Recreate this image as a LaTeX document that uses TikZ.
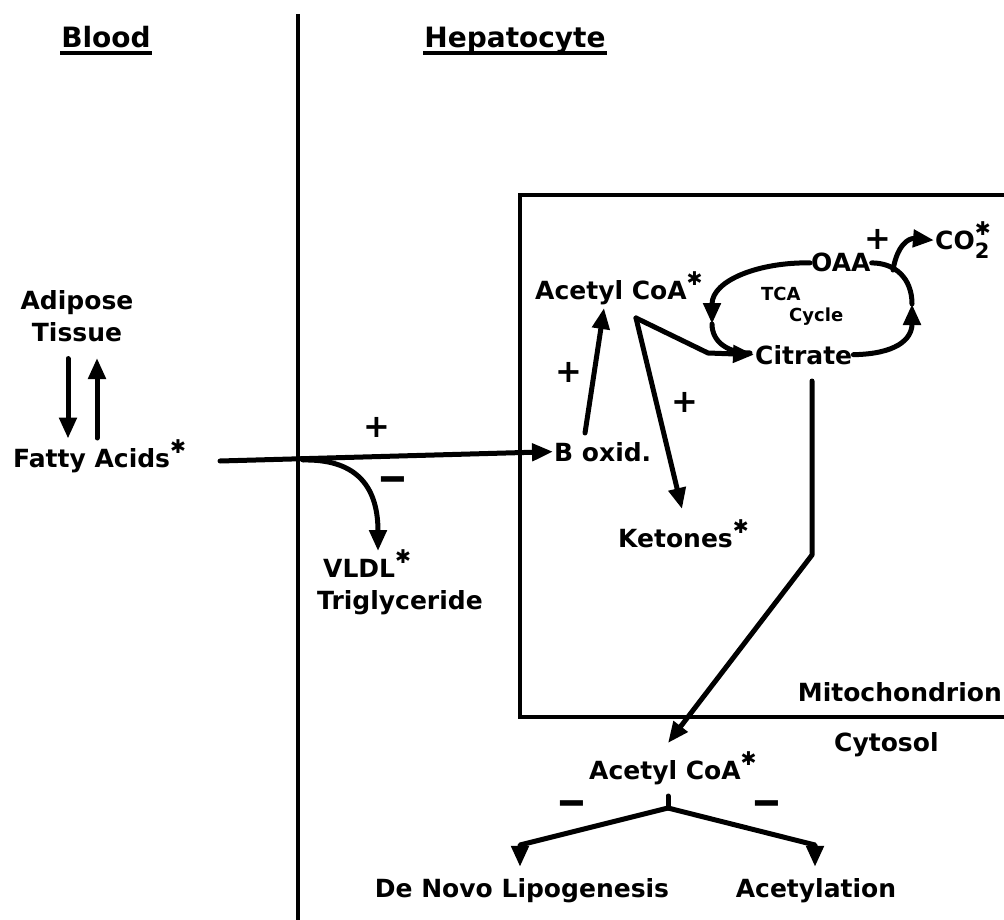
\documentclass[tikz,border=0pt]{standalone}
\usepackage{fontspec}
\usepackage{graphicx}
\setmainfont{DejaVu Sans}
\newfontfamily\starfont{DejaVu Sans}
\usetikzlibrary{arrows.meta}
% raised heavy asterisk that marks labelled compounds
\newcommand\pstar{\raisebox{0.55em}{\starfont\fontsize{19}{19}\selectfont ✱}}
\newcommand\minussign{\scalebox{1.15}[1.5]{−}}
\begin{document}
\begin{tikzpicture}[x=1pt,y=-1pt,
  every node/.style={inner sep=1pt},
  lbl/.style={font=\bfseries\fontsize{25}{32}\selectfont},
  small/.style={font=\bfseries\fontsize{18}{21}\selectfont, align=left},
  head/.style={font=\bfseries\fontsize{28}{30}\selectfont},
  sign/.style={font=\bfseries\fontsize{32}{32}\selectfont},
  wire/.style={line width=5pt, line cap=round, line join=round},
  flow/.style={wire, -{Triangle[length=21pt,width=17pt]}},
]
\useasboundingbox (0,0) rectangle (1004,920);

% blood / hepatocyte boundary and mitochondrial membrane
\draw[line width=3.5pt] (298,14) -- (298,920);
\draw[line width=4.5pt] (1008,195) -- (520,195) -- (520,717) -- (1008,717);

% headings
\node[head,anchor=base] (blood) at (106,48) {Blood};
\node[head,anchor=base] (hep) at (515,48) {Hepatocyte};
\draw[line width=4pt] ([yshift=-5pt]blood.base west) -- ([yshift=-5pt]blood.base east);
\draw[line width=4pt] ([yshift=-5pt]hep.base west) -- ([yshift=-5pt]hep.base east);

% labels
\node[lbl,anchor=base] (adipose) at (77,309) {Adipose};
\node[lbl,anchor=base] (tissue) at (77,341) {Tissue};
\node[lbl,anchor=base west] (fatty) at (12,467) {Fatty Acids\pstar};
\node[lbl,anchor=base west] (vldl) at (322,577) {VLDL\pstar};
\node[lbl,anchor=base west] (trig) at (316,609) {Triglyceride};
\node[lbl,anchor=base west] (boxid) at (553,461) {B oxid.};
\node[lbl,anchor=base west] (acm) at (534,299) {Acetyl CoA\pstar};
\node[lbl,anchor=base west] (ketones) at (617,547) {Ketones\pstar};
\node[lbl,anchor=base west] (citrate) at (754,364) {Citrate};
\node[lbl,anchor=base west] (oaa) at (810,272) {OAA};
\node[small,anchor=north west] (tca) at (760,286) {TCA\\\hspace*{28pt}Cycle};
\node[lbl,anchor=base west] (co2) at (934,249)
  {CO\rlap{\raisebox{-0.4em}{\fontsize{21}{21}\selectfont 2}}\pstar};
\node[lbl,anchor=base east] (mito) at (1003,701) {Mitochondrion};
\node[lbl,anchor=base west] (cytosol) at (833,751) {Cytosol};
\node[lbl,anchor=base west] (acc) at (588,779) {Acetyl CoA\pstar};
\node[lbl,anchor=base] (lipo) at (522,897) {De Novo Lipogenesis};
\node[lbl,anchor=base] (acetyl) at (816,897) {Acetylation};

% regulation signs
\node[sign] (p1) at (377,427) {+};
\node[sign] (m1) at (393,486) {\minussign};
\node[sign] (p2) at (569,372) {+};
\node[sign] (p3) at (685,402) {+};
\node[sign] (p4) at (878,239) {+};
\node[sign] (m2) at (572,810) {\minussign};
\node[sign] (m3) at (767,810) {\minussign};

% adipose tissue exchange
\draw[flow] ([xshift=-9pt,yshift=-16pt]tissue.south) -- ++(0,80);
\draw[flow] ([xshift=85pt,yshift=29pt]fatty.base west) -- ++(0,-80);

% fatty acid uptake and partitioning
\coordinate (faout) at (220,461);
\coordinate (split) at (303,460);
\draw[flow] (faout) -- (boxid.west);
\draw[flow] (split) .. controls (352,459) and (378,482) .. ([xshift=56pt,yshift=26pt]vldl.base west);

% beta oxidation and its products
\coordinate (acmout) at ([xshift=102pt,yshift=-19pt]acm.base west);
\draw[flow] ([xshift=32pt,yshift=28pt]boxid.base west) -- ([xshift=70pt,yshift=-9pt]acm.base west);
\draw[flow] (acmout) -- ([xshift=65pt,yshift=38pt]ketones.base west);
\draw[flow] (acmout) -- (708,353) -- (citrate.west);

% TCA cycle
\coordinate (lefttip) at (712,324);
\coordinate (righttip) at (912,304);
\draw[flow] (oaa.west) .. controls (760,262) and (712,280) .. (lefttip);
\draw[wire] (lefttip) .. controls (712,342) and (728,353) .. (750,353);
\draw[flow] (citrate.east) .. controls (895,354) and (912,340) .. (righttip);
\draw[wire] (righttip) .. controls (912,278) and (895,263) .. (oaa.east);
\coordinate (co2out) at (893,270);
\draw[flow] (co2out) .. controls (897,246) and (908,238) .. (co2.west);

% citrate export to cytosol
\coordinate (bend) at (812,555);
\draw[flow] ([xshift=58pt,yshift=-17pt]citrate.base west) -- (bend) -- ([xshift=80pt,yshift=36pt]acc.base west);

% cytosolic acetyl CoA fates
\coordinate (fork) at ([xshift=80pt,yshift=-29pt]acc.base west);
\draw[wire] ([xshift=80pt,yshift=-17pt]acc.base west) -- (fork);
\draw[flow] (fork) -- (520,845) -- ([xshift=-2pt,yshift=10pt]lipo.north);
\draw[flow] (fork) -- (815,845) -- ([xshift=-1pt,yshift=10pt]acetyl.north);
\end{tikzpicture}
\end{document}
